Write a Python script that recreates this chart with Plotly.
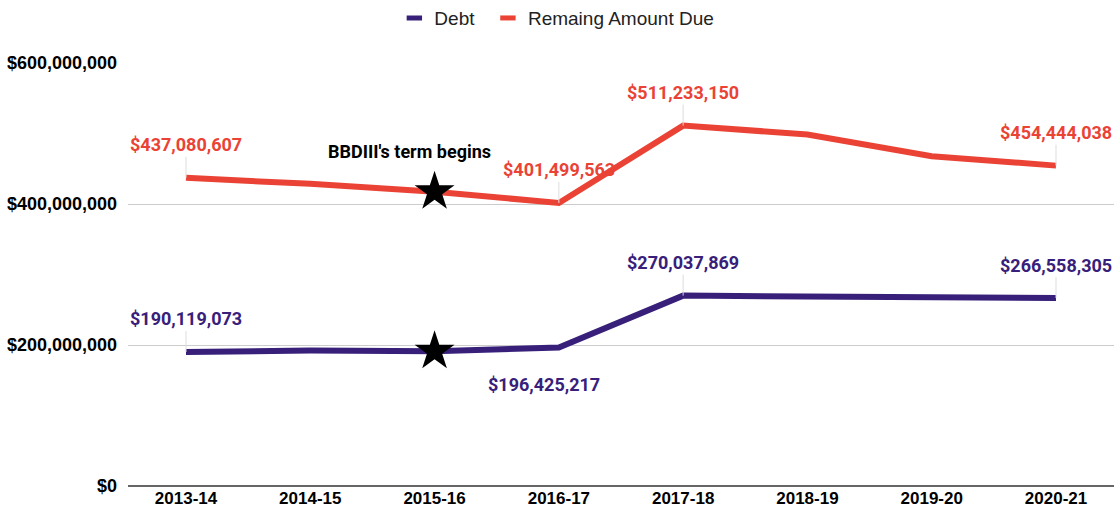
import plotly.graph_objects as go

years = ["2013-14", "2014-15", "2015-16", "2016-17", "2017-18", "2018-19", "2019-20", "2020-21"]
debt = [190119073, 192200000, 191200000, 196425217, 270037869, 268800000, 268400000, 266558305]
remaining = [437080607, 428600000, 417300000, 401499563, 511233150, 498600000, 467800000, 454444038]
term_start = "2015-16"
term_label = "BBDIII's term begins"
y_ticks = [0, 200000000, 400000000, 600000000]
y_ticktext = ["$0", "$200,000,000", "$400,000,000", "$600,000,000"]

PURPLE = "#38207a"
RED = "#ea4335"

fig = go.Figure()
fig.add_trace(go.Scatter(x=years, y=debt, mode="lines", line=dict(color=PURPLE, width=6),
                         showlegend=False, hoverinfo="skip"))
fig.add_trace(go.Scatter(x=years, y=remaining, mode="lines", line=dict(color=RED, width=6),
                         showlegend=False, hoverinfo="skip"))

# legend entries
fig.add_trace(go.Scatter(x=[None], y=[None], mode="markers", name="Debt", legend="legend",
                         marker=dict(symbol="line-ew-open", size=11, color=PURPLE,
                                     line=dict(color=PURPLE, width=5))))
fig.add_trace(go.Scatter(x=[None], y=[None], mode="markers", name="Remaing Amount Due",
                         legend="legend2",
                         marker=dict(symbol="line-ew-open", size=11, color=RED,
                                     line=dict(color=RED, width=5))))

# stars
i = years.index(term_start)
fig.add_trace(go.Scatter(x=[term_start, term_start], y=[remaining[i], debt[i]], mode="markers",
                         marker=dict(symbol="star", size=30, color="black"),
                         showlegend=False, hoverinfo="skip"))

def fmt(v):
    return "${:,}".format(v)

labels = [
    (0, remaining, RED),
    (3, remaining, RED),
    (4, remaining, RED),
    (7, remaining, RED),
    (0, debt, PURPLE),
    (4, debt, PURPLE),
    (7, debt, PURPLE),
]
for idx, series, col in labels:
    fig.add_annotation(x=years[idx], y=series[idx], text=fmt(series[idx]), showarrow=True,
                       arrowhead=0, arrowwidth=1, arrowcolor="#dddddd", ax=0, ay=-33,
                       font=dict(family="Roboto", size=18, color=col, weight="bold"))
# label below
fig.add_annotation(x=years[3], y=debt[3], text=fmt(debt[3]), showarrow=False,
                   xshift=-15, yshift=-37,
                   font=dict(family="Roboto", size=18, color=PURPLE, weight="bold"))

fig.add_annotation(x=term_start, y=474000000, text=term_label, showarrow=False, xshift=-25,
                   font=dict(family="Roboto", size=18, color="black", weight="bold"))

legend_font = dict(family="Liberation Sans", size=19, color="#222222")
fig.update_layout(
    width=1114, height=517,
    margin=dict(l=128, r=0, t=63, b=31),
    plot_bgcolor="white", paper_bgcolor="white",
    legend=dict(orientation="h", xref="container", x=0.354, xanchor="left",
                yref="container", y=0.965, yanchor="middle", font=legend_font),
    legend2=dict(orientation="h", xref="container", x=0.438, xanchor="left",
                 yref="container", y=0.965, yanchor="middle", font=legend_font),
    xaxis=dict(showgrid=False, showline=False, ticks="",
               tickfont=dict(family="Liberation Sans", size=17, color="black", weight="bold")),
    yaxis=dict(range=[0, 600000000], tickvals=y_ticks, ticktext=y_ticktext,
               showgrid=True, gridcolor="#cccccc", gridwidth=1,
               zeroline=True, zerolinecolor="#666666", zerolinewidth=2,
               ticks="", ticklabelstandoff=10,
               tickfont=dict(family="Liberation Sans", size=18, color="black", weight="bold")),
)

fig.write_html("out.html", config={"displayModeBar": False},
               post_script="document.body.style.margin='0px';document.body.style.overflow='hidden';")
